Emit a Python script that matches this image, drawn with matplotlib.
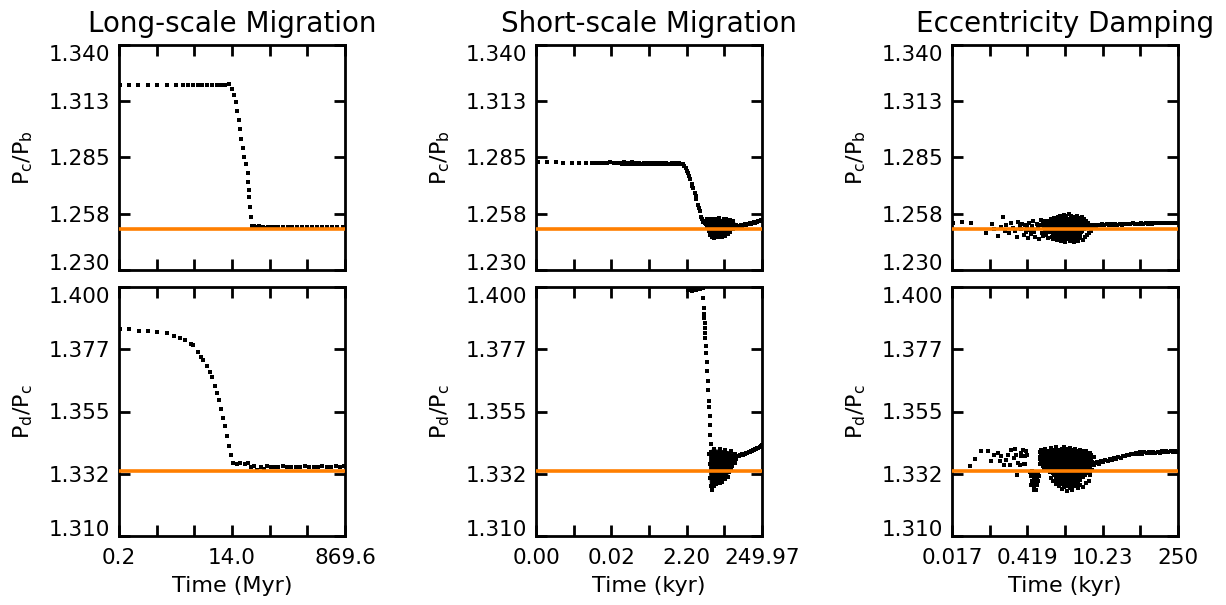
import numpy as np
import matplotlib.pyplot as plt
from matplotlib.ticker import NullLocator

# x values below are log10(time); time in Myr (column 1) or kyr (columns 2, 3)
titles = ['Long-scale Migration', 'Short-scale Migration', 'Eccentricity Damping']
xlabels = ['Time (Myr)', 'Time (kyr)', 'Time (kyr)']
x_ranges = [(0.225, 869.6), (1.7e-4, 249.97), (0.017, 250.0)]
x_ticklabels = [['0.2', '', '', '14.0', '', '', '869.6'],
                ['0.00', '', '0.02', '', '2.20', '', '249.97'],
                ['0.017', '', '0.419', '', '10.23', '', '250']]
ylabels = [r'$\mathregular{P_c/P_b}$', r'$\mathregular{P_d/P_c}$']
y_ranges = [(1.230, 1.340), (1.310, 1.400)]
y_ticklabels = [['1.230', '1.258', '1.285', '1.313', '1.340'],
                ['1.310', '1.332', '1.355', '1.377', '1.400']]
resonance = [5 / 4, 4 / 3]

long_top = [(-0.632, 1.3204), (-0.489, 1.3204), (-0.341, 1.3204), (-0.193, 1.3204), (-0.040, 1.3204),
            (0.109, 1.3204), (0.257, 1.3204), (0.373, 1.3203), (0.452, 1.3205), (0.531, 1.3203),
            (0.611, 1.3206), (0.674, 1.3204), (0.744, 1.3202), (0.823, 1.3205), (0.902, 1.3203),
            (0.971, 1.3206), (1.034, 1.3204), (1.098, 1.3207),
            (1.140, 1.3183), (1.177, 1.3155), (1.204, 1.3120), (1.229, 1.3077), (1.251, 1.3033),
            (1.277, 1.2988), (1.293, 1.2942), (1.320, 1.2896), (1.341, 1.2854), (1.368, 1.2817),
            (1.394, 1.2773), (1.405, 1.2732), (1.415, 1.2691), (1.420, 1.2655), (1.436, 1.2609),
            (1.452, 1.2560),
            (1.460, 1.2513), (1.475, 1.2511), (1.490, 1.2513), (1.510, 1.2512), (1.530, 1.2505),
            (1.550, 1.2511), (1.580, 1.2513), (1.610, 1.2504), (1.640, 1.2512), (1.670, 1.2506),
            (1.710, 1.2511), (1.760, 1.2512), (1.820, 1.2510), (1.880, 1.2512), (1.950, 1.2511),
            (2.030, 1.2510), (2.100, 1.2512), (2.180, 1.2511), (2.260, 1.2510), (2.340, 1.2512),
            (2.420, 1.2511), (2.500, 1.2510), (2.580, 1.2512), (2.660, 1.2511), (2.740, 1.2510),
            (2.820, 1.2511), (2.900, 1.2512)]

long_bot = [(-0.632, 1.3847), (-0.489, 1.3847), (-0.330, 1.3842), (-0.193, 1.3841), (-0.040, 1.3838),
            (0.109, 1.3833), (0.230, 1.3824), (0.320, 1.3817), (0.400, 1.3809), (0.495, 1.3794),
            (0.531, 1.3791), (0.611, 1.3765), (0.653, 1.3748), (0.690, 1.3736), (0.744, 1.3715),
            (0.797, 1.3694), (0.834, 1.3674), (0.876, 1.3643), (0.902, 1.3616), (0.939, 1.3590),
            (0.971, 1.3558), (1.008, 1.3526), (1.034, 1.3496), (1.071, 1.3460), (1.098, 1.3426),
            (1.124, 1.3392), (1.167, 1.3364), (1.220, 1.3361), (1.273, 1.3364), (1.352, 1.3361),
            (1.405, 1.3364),
            (1.450, 1.3351), (1.500, 1.3352), (1.550, 1.3340), (1.600, 1.3350), (1.650, 1.3341),
            (1.700, 1.3352), (1.760, 1.3350), (1.820, 1.3351), (1.880, 1.3349), (1.950, 1.3352),
            (2.020, 1.3350), (2.090, 1.3351), (2.160, 1.3349), (2.230, 1.3351), (2.300, 1.3352),
            (2.370, 1.3350), (2.440, 1.3349), (2.510, 1.3351), (2.580, 1.3352), (2.650, 1.3350),
            (2.720, 1.3351), (2.790, 1.3352), (2.860, 1.3351), (2.930, 1.3352)]

short_top = [(-3.725, 1.2830), (-3.481, 1.2826), (-3.229, 1.2826), (-3.030, 1.2821), (-2.796, 1.2825),
             (-2.596, 1.2825), (-2.416, 1.2821), (-2.254, 1.2825), (-2.127, 1.2821), (-2.010, 1.2821),
             (-1.918, 1.2825), (-1.829, 1.2825), (-1.739, 1.2826), (-1.647, 1.2825), (-1.585, 1.2821),
             (-1.512, 1.2821),
             (-1.46, 1.2824), (-1.41, 1.2818), (-1.36, 1.2827), (-1.31, 1.2820), (-1.26, 1.2823),
             (-1.21, 1.2816), (-1.16, 1.2826), (-1.11, 1.2819), (-1.06, 1.2822), (-1.01, 1.2817),
             (-0.96, 1.2825), (-0.91, 1.2820), (-0.86, 1.2818), (-0.81, 1.2823), (-0.76, 1.2816),
             (-0.71, 1.2821), (-0.66, 1.2819), (-0.61, 1.2824), (-0.56, 1.2817), (-0.51, 1.2822),
             (-0.46, 1.2818), (-0.41, 1.2821), (-0.36, 1.2816), (-0.31, 1.2823), (-0.26, 1.2819),
             (-0.21, 1.2822), (-0.16, 1.2817), (-0.11, 1.2820), (-0.06, 1.2824), (-0.01, 1.2818),
             (0.04, 1.2821), (0.09, 1.2819), (0.14, 1.2822), (0.19, 1.2820),
             (0.249, 1.2818), (0.28, 1.2808), (0.312, 1.2797), (0.34, 1.2786), (0.366, 1.2773),
             (0.40, 1.2758), (0.428, 1.2743), (0.474, 1.2720), (0.50, 1.2710), (0.520, 1.2699),
             (0.564, 1.2675), (0.59, 1.2660), (0.609, 1.2645), (0.655, 1.2618), (0.68, 1.2604),
             (0.699, 1.2590), (0.745, 1.2560), (0.77, 1.2548), (0.790, 1.2536), (0.835, 1.2528),
             (0.84, 1.2540), (0.86, 1.2531), (0.87, 1.2523), (0.89, 1.2515), (0.90, 1.2548),
             (0.95, 1.2550), (1.05, 1.2551), (1.12, 1.2549), (1.22, 1.2552), (1.35, 1.2550),
             (1.42, 1.2548), (1.52, 1.2545), (1.62, 1.2540), (1.68, 1.2520), (1.60, 1.2498),
             (1.52, 1.2487), (1.48, 1.2476), (1.40, 1.2465), (1.30, 1.2461), (1.20, 1.2459),
             (1.08, 1.2458), (1.02, 1.2461), (0.98, 1.2472), (0.94, 1.2490), (0.91, 1.2508),
             (1.70, 1.2512), (1.73, 1.2510), (1.76, 1.2515), (1.79, 1.2513), (1.82, 1.2518),
             (1.85, 1.2516), (1.88, 1.2520), (1.91, 1.2518), (1.94, 1.2523), (1.97, 1.2521),
             (2.00, 1.2525), (2.03, 1.2524), (2.06, 1.2528), (2.09, 1.2526), (2.12, 1.2531),
             (2.15, 1.2529), (2.18, 1.2533), (2.21, 1.2532), (2.24, 1.2536), (2.27, 1.2535),
             (2.30, 1.2539), (2.33, 1.2538), (2.36, 1.2542), (2.39, 1.2544)]
short_top_core = [(0.92, 1.2540), (1.00, 1.2546), (1.15, 1.2546), (1.30, 1.2547), (1.45, 1.2543),
                  (1.58, 1.2538), (1.66, 1.2530), (1.66, 1.2506), (1.55, 1.2494), (1.45, 1.2480),
                  (1.38, 1.2470), (1.25, 1.2465), (1.10, 1.2463), (1.00, 1.2466), (0.97, 1.2480),
                  (0.92, 1.2500)]

short_bot = [(0.39, 1.3988), (0.45, 1.3989), (0.50, 1.3987), (0.55, 1.3990), (0.60, 1.3989),
             (0.65, 1.3991), (0.70, 1.3993), (0.74, 1.3995), (0.78, 1.3997),
             (0.790, 1.3959), (0.808, 1.3923), (0.817, 1.3901), (0.826, 1.3887), (0.835, 1.3869),
             (0.840, 1.3851), (0.844, 1.3833), (0.853, 1.3815), (0.862, 1.3785), (0.880, 1.3761),
             (0.898, 1.3730), (0.907, 1.3697), (0.916, 1.3661), (0.925, 1.3628), (0.943, 1.3588),
             (0.953, 1.3568), (0.971, 1.3535), (0.980, 1.3502), (0.989, 1.3466), (0.998, 1.3432),
             (1.007, 1.3405),
             (0.96, 1.3395), (0.97, 1.3360), (0.98, 1.3310), (1.00, 1.3280), (1.04, 1.3268),
             (1.10, 1.3280), (1.15, 1.3288), (1.25, 1.3290), (1.30, 1.3296), (1.40, 1.3305),
             (1.48, 1.3312), (1.50, 1.3330), (1.55, 1.3340), (1.58, 1.3352), (1.65, 1.3364),
             (1.70, 1.3380), (1.10, 1.3416), (1.25, 1.3415), (1.40, 1.3412), (1.55, 1.3406),
             (1.65, 1.3398),
             (1.70, 1.3386), (1.73, 1.3390), (1.76, 1.3388), (1.79, 1.3392), (1.82, 1.3391),
             (1.85, 1.3395), (1.88, 1.3394), (1.91, 1.3398), (1.94, 1.3397), (1.97, 1.3401),
             (2.00, 1.3400), (2.03, 1.3404), (2.06, 1.3403), (2.09, 1.3407), (2.12, 1.3406),
             (2.15, 1.3410), (2.18, 1.3410), (2.21, 1.3414), (2.24, 1.3414), (2.27, 1.3418),
             (2.30, 1.3419), (2.33, 1.3422), (2.36, 1.3424), (2.39, 1.3428)]
short_bot_core = [(0.97, 1.3405), (1.05, 1.3412), (1.20, 1.3410), (1.35, 1.3408), (1.50, 1.3404),
                  (1.62, 1.3396), (1.68, 1.3388), (1.68, 1.3372), (1.60, 1.3360), (1.52, 1.3345),
                  (1.46, 1.3320), (1.35, 1.3300), (1.20, 1.3292), (1.08, 1.3285), (1.03, 1.3272),
                  (0.99, 1.3290), (0.97, 1.3330)]

ecc_top = [(-1.75, 1.2531), (-1.59, 1.2536), (-1.41, 1.2528), (-1.14, 1.2482), (-1.04, 1.2523),
           (-0.99, 1.2498), (-0.93, 1.2466), (-0.86, 1.2512), (-0.83, 1.2557), (-0.79, 1.2490),
           (-0.77, 1.2520), (-0.72, 1.2479), (-0.68, 1.2528), (-0.64, 1.2505), (-0.60, 1.2490),
           (-0.58, 1.2463), (-0.55, 1.2536), (-0.52, 1.2515), (-0.50, 1.2498), (-0.47, 1.2527),
           (-0.45, 1.2470), (-0.43, 1.2522), (-0.41, 1.2486), (-0.39, 1.2510), (-0.37, 1.2458),
           (-0.35, 1.2532), (-0.33, 1.2495), (-0.31, 1.2475), (-0.29, 1.2517), (-0.27, 1.2540),
           (-0.25, 1.2488), (-0.23, 1.2462), (-0.21, 1.2527), (-0.19, 1.2505), (-0.17, 1.2450),
           (-0.15, 1.2518), (-0.13, 1.2546), (-0.11, 1.2480), (-0.09, 1.2468),
           (-0.10, 1.2532), (-0.08, 1.2515), (-0.06, 1.2492), (-0.05, 1.2541), (-0.04, 1.2470),
           (-0.02, 1.2523), (0.00, 1.2457), (0.02, 1.2540), (0.04, 1.2485), (0.06, 1.2548),
           (0.08, 1.2463), (0.10, 1.2450), (0.12, 1.2555), (0.14, 1.2470), (0.16, 1.2446),
           (0.18, 1.2558), (0.20, 1.2452), (0.22, 1.2562), (0.24, 1.2441), (0.26, 1.2560),
           (0.28, 1.2447), (0.30, 1.2568), (0.32, 1.2438), (0.34, 1.2562), (0.36, 1.2452),
           (0.38, 1.2575), (0.40, 1.2440), (0.42, 1.2565), (0.44, 1.2446), (0.46, 1.2560),
           (0.48, 1.2436), (0.50, 1.2558), (0.52, 1.2450), (0.54, 1.2566), (0.56, 1.2442),
           (0.58, 1.2556), (0.60, 1.2455), (0.62, 1.2560), (0.64, 1.2448), (0.66, 1.2550),
           (0.68, 1.2460), (0.70, 1.2540), (0.72, 1.2470), (0.74, 1.2530), (0.76, 1.2482),
           (0.78, 1.2515), (0.80, 1.2492), (0.82, 1.2522), (0.84, 1.2505), (0.86, 1.2518),
           (0.88, 1.2516), (0.92, 1.2522), (0.96, 1.2518), (1.00, 1.2524), (1.04, 1.2519),
           (1.08, 1.2523), (1.12, 1.2520), (1.16, 1.2525), (1.20, 1.2521), (1.24, 1.2524),
           (1.28, 1.2522), (1.32, 1.2526), (1.36, 1.2522), (1.40, 1.2527), (1.44, 1.2523),
           (1.48, 1.2526), (1.52, 1.2524), (1.56, 1.2528), (1.60, 1.2525), (1.64, 1.2527),
           (1.68, 1.2525), (1.72, 1.2529), (1.76, 1.2526), (1.80, 1.2528), (1.84, 1.2527),
           (1.88, 1.2530), (1.92, 1.2527), (1.96, 1.2529), (2.00, 1.2528), (2.04, 1.2531),
           (2.08, 1.2528), (2.12, 1.2530), (2.16, 1.2529), (2.20, 1.2532), (2.24, 1.2529),
           (2.28, 1.2531), (2.32, 1.2530), (2.36, 1.2532), (2.39, 1.2531)]
# dense middle of the cloud, read as rows: (ratio, [log10 t, ...])
ecc_top_rows = [(1.2548, [0.20, 0.28, 0.35, 0.41, 0.47, 0.53]),
                (1.2540, [0.05, 0.11, 0.17, 0.24, 0.31, 0.37, 0.44, 0.50, 0.57, 0.63]),
                (1.2532, [-0.02, 0.04, 0.09, 0.15, 0.21, 0.27, 0.33, 0.39, 0.46, 0.52, 0.58, 0.64, 0.70]),
                (1.2524, [-0.05, 0.01, 0.07, 0.13, 0.19, 0.25, 0.30, 0.36, 0.42, 0.49, 0.55, 0.61, 0.67, 0.73]),
                (1.2516, [-0.03, 0.03, 0.10, 0.16, 0.22, 0.28, 0.34, 0.40, 0.47, 0.53, 0.59, 0.65, 0.71]),
                (1.2508, [-0.06, 0.00, 0.06, 0.12, 0.18, 0.24, 0.31, 0.37, 0.43, 0.50, 0.56, 0.62, 0.68]),
                (1.2500, [-0.01, 0.05, 0.11, 0.17, 0.23, 0.29, 0.35, 0.41, 0.48, 0.54, 0.60, 0.66]),
                (1.2492, [0.02, 0.08, 0.14, 0.20, 0.26, 0.33, 0.39, 0.45, 0.51, 0.57, 0.63]),
                (1.2484, [0.06, 0.12, 0.18, 0.24, 0.30, 0.36, 0.42, 0.49, 0.55, 0.61]),
                (1.2476, [0.10, 0.16, 0.22, 0.28, 0.35, 0.41, 0.47, 0.53, 0.59]),
                (1.2468, [0.15, 0.21, 0.27, 0.33, 0.40, 0.46, 0.52, 0.58]),
                (1.2460, [0.25, 0.32, 0.38, 0.44, 0.50])]

ecc_bot = [(-1.444, 1.3354), (-1.339, 1.3378), (-1.241, 1.3406), (-1.106, 1.3406), (-1.057, 1.3370),
           (-0.995, 1.3394), (-0.921, 1.3400), (-0.891, 1.3370), (-0.860, 1.3388), (-0.811, 1.3358),
           (-0.768, 1.3376), (-0.737, 1.3394), (-0.706, 1.3358), (-0.675, 1.3412), (-0.626, 1.3382),
           (-0.614, 1.3414), (-0.583, 1.3394), (-0.565, 1.3321), (-0.553, 1.3364), (-0.522, 1.3358),
           (-0.491, 1.3388), (-0.460, 1.3412), (-0.430, 1.3388), (-0.417, 1.3361), (-0.380, 1.3394),
           (-0.400, 1.3406), (-0.445, 1.3360), (-0.500, 1.3400),
           (-0.33, 1.3330), (-0.31, 1.3316), (-0.30, 1.3336), (-0.29, 1.3300), (-0.28, 1.3322),
           (-0.27, 1.3290), (-0.26, 1.3310), (-0.25, 1.3276), (-0.24, 1.3330), (-0.23, 1.3296),
           (-0.22, 1.3268), (-0.21, 1.3312), (-0.20, 1.3284), (-0.19, 1.3326), (-0.18, 1.3300),
           (-0.17, 1.3318), (-0.31, 1.3285), (-0.26, 1.3265), (-0.23, 1.3318),
           (-0.15, 1.3405), (-0.12, 1.3412), (-0.08, 1.3398), (-0.05, 1.3416), (0.00, 1.3408),
           (0.05, 1.3418), (0.10, 1.3412), (0.15, 1.3420), (0.20, 1.3410), (0.25, 1.3416),
           (0.30, 1.3422), (0.35, 1.3414), (0.40, 1.3418), (0.45, 1.3410), (0.50, 1.3416),
           (0.55, 1.3408), (0.60, 1.3412), (0.65, 1.3404), (0.70, 1.3408), (0.75, 1.3398),
           (0.80, 1.3392), (0.84, 1.3386),
           (-0.15, 1.3380), (-0.14, 1.3360), (-0.12, 1.3390), (-0.11, 1.3372), (-0.10, 1.3352),
           (-0.08, 1.3340), (-0.05, 1.3362), (0.00, 1.3345), (0.04, 1.3330), (0.06, 1.3310),
           (0.10, 1.3300), (0.15, 1.3288), (0.20, 1.3282), (0.25, 1.3270), (0.30, 1.3276),
           (0.35, 1.3262), (0.40, 1.3272), (0.45, 1.3266), (0.50, 1.3280), (0.55, 1.3272),
           (0.60, 1.3284), (0.65, 1.3276), (0.70, 1.3290), (0.75, 1.3300), (0.78, 1.3320),
           (0.82, 1.3340), (0.85, 1.3355),
           (0.86, 1.3364), (0.90, 1.3368), (0.94, 1.3362), (0.98, 1.3371), (1.02, 1.3366),
           (1.06, 1.3374), (1.10, 1.3370), (1.14, 1.3378), (1.18, 1.3374), (1.22, 1.3382),
           (1.26, 1.3378), (1.30, 1.3386), (1.34, 1.3383), (1.38, 1.3390), (1.42, 1.3388),
           (1.46, 1.3394), (1.50, 1.3392), (1.54, 1.3398), (1.58, 1.3395), (1.62, 1.3400),
           (1.66, 1.3397), (1.70, 1.3402), (1.74, 1.3398), (1.78, 1.3403), (1.82, 1.3399),
           (1.86, 1.3404), (1.90, 1.3400), (1.94, 1.3404), (1.98, 1.3401), (2.02, 1.3405),
           (2.06, 1.3401), (2.10, 1.3406), (2.14, 1.3402), (2.18, 1.3406), (2.22, 1.3402),
           (2.26, 1.3406), (2.30, 1.3403), (2.34, 1.3407), (2.38, 1.3404)]
ecc_bot_rows = [(1.3408, [-0.10, -0.03, 0.04, 0.11, 0.18, 0.25, 0.32, 0.39, 0.46, 0.53, 0.60, 0.67]),
                (1.3400, [-0.13, -0.06, 0.01, 0.08, 0.15, 0.22, 0.29, 0.36, 0.43, 0.50, 0.57, 0.64, 0.71, 0.78]),
                (1.3392, [-0.11, -0.04, 0.03, 0.10, 0.17, 0.24, 0.31, 0.38, 0.45, 0.52, 0.59, 0.66, 0.73, 0.80]),
                (1.3384, [-0.14, -0.07, 0.00, 0.07, 0.14, 0.21, 0.28, 0.35, 0.42, 0.49, 0.56, 0.63, 0.70, 0.77, 0.84]),
                (1.3376, [-0.12, -0.05, 0.02, 0.09, 0.16, 0.23, 0.30, 0.37, 0.44, 0.51, 0.58, 0.65, 0.72, 0.79]),
                (1.3368, [-0.09, -0.02, 0.05, 0.12, 0.19, 0.26, 0.33, 0.40, 0.47, 0.54, 0.61, 0.68, 0.75, 0.82]),
                (1.3360, [-0.11, -0.04, 0.03, 0.10, 0.17, 0.24, 0.31, 0.38, 0.45, 0.52, 0.59, 0.66, 0.73]),
                (1.3352, [-0.06, 0.01, 0.08, 0.15, 0.22, 0.29, 0.36, 0.43, 0.50, 0.57, 0.64, 0.71, 0.78]),
                (1.3344, [0.04, 0.11, 0.18, 0.25, 0.32, 0.39, 0.46, 0.53, 0.60, 0.67, 0.74]),
                (1.3336, [0.07, 0.14, 0.21, 0.28, 0.35, 0.42, 0.49, 0.56, 0.63, 0.70, 0.77]),
                (1.3328, [0.09, 0.16, 0.23, 0.30, 0.37, 0.44, 0.51, 0.58, 0.65, 0.72]),
                (1.3320, [0.12, 0.19, 0.26, 0.33, 0.40, 0.47, 0.54, 0.61, 0.68]),
                (1.3312, [0.15, 0.22, 0.29, 0.36, 0.43, 0.50, 0.57, 0.64]),
                (1.3304, [0.17, 0.24, 0.31, 0.38, 0.45, 0.52, 0.59]),
                (1.3296, [0.21, 0.28, 0.35, 0.42, 0.49, 0.56]),
                (1.3288, [0.25, 0.32, 0.39, 0.46, 0.53]),
                (1.3280, [0.30, 0.37, 0.44])]


def rows_to_points(rows):
    return [(t, r) for r, ts in rows for t in ts]


panels = [[(long_top, None), (short_top, short_top_core), (ecc_top + rows_to_points(ecc_top_rows), None)],
          [(long_bot, None), (short_bot, short_bot_core), (ecc_bot + rows_to_points(ecc_bot_rows), None)]]

W, H = 1226, 605
col_left = [119, 536, 952]
col_width = 226
row_top = [45, 287]
row_height = [225, 249]
orange = '#ff7f00'
fs = 15.5

fig = plt.figure(figsize=(W / 100, H / 100), dpi=100)

for row in range(2):
    for col in range(3):
        pos = [col_left[col] / W, (H - row_top[row] - row_height[row]) / H,
               col_width / W, row_height[row] / H]
        ax = fig.add_axes(pos)
        pts, core = panels[row][col]
        lt, r = np.array(pts).T
        ax.plot(10 ** lt, r, 's', color='k', ms=2.2, mew=0, zorder=2)
        if core is not None:
            ct, cr = np.array(core).T
            ax.fill(10 ** ct, cr, color='k', lw=0.8, zorder=2)
        ax.axhline(resonance[row], color=orange, lw=2.6, zorder=3)

        ax.set_xscale('log')
        lo, hi = x_ranges[col]
        ax.set_xlim(lo, hi)
        ax.set_xticks(np.logspace(np.log10(lo), np.log10(hi), 7))
        ax.xaxis.set_minor_locator(NullLocator())
        ax.set_ylim(*y_ranges[row])
        ax.set_yticks(np.linspace(y_ranges[row][0], y_ranges[row][1], 5))
        ylab = ax.set_yticklabels(y_ticklabels[row], fontsize=fs)
        # end labels sit inside the axis span, as in the original
        ylab[0].set_verticalalignment('baseline')
        ylab[-1].set_verticalalignment('top')
        if row == 1:
            ax.set_xticklabels(x_ticklabels[col], fontsize=fs)
            ax.set_xlabel(xlabels[col], fontsize=16)
            ax.xaxis.set_label_coords(0.5, -40 / row_height[row])
        else:
            ax.set_xticklabels([])
            ax.set_title(titles[col], fontsize=20, pad=9.0)
        ax.set_ylabel(ylabels[row], fontsize=16)
        ax.yaxis.set_label_coords(-84 / col_width, 0.5)

        ax.tick_params(direction='in', length=8, width=2, top=True, right=True, color='k')
        ax.tick_params(axis='x', pad=9.0)
        ax.tick_params(axis='y', pad=6.5)
        for s in ax.spines.values():
            s.set_linewidth(2)

fig.savefig('out.png', dpi=100)
